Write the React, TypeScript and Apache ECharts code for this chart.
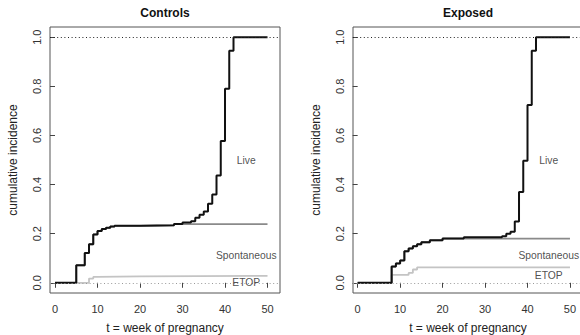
import React, { useEffect, useRef } from "react";
import * as echarts from "echarts";

// ---- Data ----
const xTicks = [0, 10, 20, 30, 40, 50];
const yTicks = [0, 0.2, 0.4, 0.6, 0.8, 1.0];

// Controls
const tLiveC = [0, 5, 7, 8, 9, 10, 11, 12, 13, 14, 20, 28, 30, 32, 33, 34, 35, 36, 37, 38, 39, 40, 41, 42, 50];
const vLiveC = [0, 0.071, 0.121, 0.157, 0.197, 0.211, 0.219, 0.224, 0.229, 0.232, 0.234, 0.239, 0.245, 0.251, 0.265, 0.277, 0.29, 0.322, 0.36, 0.437, 0.577, 0.79, 0.945, 1.0, 1.0];
const tSponC = [0, 5, 7, 8, 9, 10, 11, 12, 13, 14, 20, 28, 50];
const vSponC = [0, 0.071, 0.121, 0.157, 0.197, 0.211, 0.219, 0.224, 0.229, 0.232, 0.234, 0.239, 0.239];
const tEtopC = [0, 8, 9, 10, 20, 50];
const vEtopC = [0, 0.017, 0.024, 0.026, 0.028, 0.028];

// Exposed
const tLiveE = [0, 8, 9, 10, 11, 12, 13, 14, 15, 17, 20, 25, 34, 35, 36, 37, 38, 39, 40, 41, 42, 50];
const vLiveE = [0, 0.066, 0.079, 0.091, 0.128, 0.14, 0.149, 0.157, 0.165, 0.173, 0.18, 0.185, 0.19, 0.2, 0.208, 0.25, 0.37, 0.497, 0.724, 0.945, 1.0, 1.0];
const tSponE = [0, 8, 9, 10, 11, 12, 13, 14, 15, 17, 20, 50];
const vSponE = [0, 0.066, 0.079, 0.091, 0.128, 0.14, 0.149, 0.157, 0.165, 0.173, 0.18, 0.18];
const tEtopE = [0, 8, 12, 13, 14, 50];
const vEtopE = [0, 0.032, 0.04, 0.054, 0.063, 0.063];

// Curve labels: [t, value, text]
const labelsC: [number, number, string][] = [
  [45, 0.5, "Live"],
  [45, 0.11, "Spontaneous"],
  [45, 0.0, "ETOP"],
];
const labelsE: [number, number, string][] = [
  [45, 0.5, "Live"],
  [45, 0.11, "Spontaneous"],
  [45, 0.03, "ETOP"],
];

const titles = ["Controls", "Exposed"];
const xName = "t = week of pregnancy";
const yName = "cumulative incidence";

const FONT = "'Liberation Sans', Arial, Helvetica, sans-serif";

const zip = (t: number[], v: number[]) => t.map((x, i) => [x, v[i]]);

function buildOption() {
  const grids = [
    { left: 50, top: 27, width: 230, height: 266 },
    { left: 353, top: 27, width: 230, height: 266 },
  ];
  const xRanges = [
    [-1.18, 52.94],
    [-1.1, 53.07],
  ];

  const xAxis = [0, 1].map((i) => ({
    gridIndex: i,
    type: "value",
    min: xRanges[i][0],
    max: xRanges[i][1],
    axisLine: { show: false },
    splitLine: { show: false },
    axisTick: { show: true, length: 5, customValues: xTicks, lineStyle: { color: "#444" } },
    axisLabel: {
      customValues: xTicks,
      margin: 10,
      fontSize: 11,
      color: "#333",
      fontFamily: FONT,
    },
    name: xName,
    nameLocation: "middle",
    nameGap: 29,
    nameTextStyle: { fontSize: 12, color: "#222", fontFamily: FONT },
  }));

  const yAxis = [0, 1].map((i) => ({
    gridIndex: i,
    type: "value",
    min: -0.0416,
    max: 1.0416,
    axisLine: { show: false },
    splitLine: { show: false },
    axisTick: { show: true, length: 5, customValues: yTicks, lineStyle: { color: "#444" } },
    axisLabel: {
      customValues: yTicks,
      rotate: 90,
      margin: 8,
      fontSize: 11,
      color: "#333",
      fontFamily: FONT,
      formatter: (v: number) => v.toFixed(1),
    },
    name: yName,
    nameLocation: "middle",
    nameRotate: 90,
    nameGap: 31,
    nameTextStyle: { fontSize: 12, color: "#222", fontFamily: FONT },
  }));

  const stepSeries = (i: number, data: number[][], color: string, width: number, z: number) => ({
    type: "line",
    xAxisIndex: i,
    yAxisIndex: i,
    step: "end",
    data,
    symbol: "none",
    showSymbol: false,
    lineStyle: { color, width },
    z,
    silent: true,
  });

  const refLines = (i: number) => ({
    type: "line",
    xAxisIndex: i,
    yAxisIndex: i,
    data: [],
    silent: true,
    z: 1,
    markLine: {
      silent: true,
      symbol: ["none", "none"],
      label: { show: false },
      data: [
        { yAxis: 1, lineStyle: { color: "#222", type: [1, 2.6], width: 1 } },
        { yAxis: 0, lineStyle: { color: "#999", type: [1, 2.6], width: 1 } },
      ],
    },
  });

  const labelSeries = (i: number, data: [number, number, string][]) => ({
    type: "scatter",
    xAxisIndex: i,
    yAxisIndex: i,
    data,
    symbolSize: 1,
    itemStyle: { color: "rgba(0,0,0,0)" },
    silent: true,
    z: 10,
    label: {
      show: true,
      position: "inside",
      align: "center",
      verticalAlign: "middle",
      formatter: (p: any) => p.value[2],
      fontSize: 10.3,
      color: "#222",
      fontFamily: FONT,
    },
  });

  const series = [
    refLines(0),
    stepSeries(0, zip(tEtopC, vEtopC), "#c4c4c4", 1.8, 2),
    stepSeries(0, zip(tSponC, vSponC), "#8a8a8a", 1.8, 3),
    stepSeries(0, zip(tLiveC, vLiveC), "#111111", 2, 4),
    labelSeries(0, labelsC),
    refLines(1),
    stepSeries(1, zip(tEtopE, vEtopE), "#c4c4c4", 1.8, 2),
    stepSeries(1, zip(tSponE, vSponE), "#8a8a8a", 1.8, 3),
    stepSeries(1, zip(tLiveE, vLiveE), "#111111", 2, 4),
    labelSeries(1, labelsE),
  ];

  const centers = [165, 468];
  const graphic = titles.map((t, i) => ({
    type: "text",
    x: centers[i],
    y: 13,
    style: {
      text: t,
      textAlign: "center",
      textVerticalAlign: "middle",
      font: `bold 12px ${FONT}`,
      fill: "#111",
    },
  }));

  return {
    animation: false,
    backgroundColor: "#ffffff",
    grid: grids.map((g) => ({
      ...g,
      outerBoundsMode: "none",
      containLabel: false,
      show: true,
      borderColor: "#555",
      borderWidth: 1,
      backgroundColor: "transparent",
    })),
    xAxis,
    yAxis,
    series,
    graphic,
  };
}

export default function App() {
  const ref = useRef<HTMLDivElement>(null);
  useEffect(() => {
    if (!ref.current) return;
    const chart = echarts.init(ref.current, undefined, { renderer: "svg" });
    chart.setOption(buildOption() as any);
    return () => chart.dispose();
  }, []);
  return <div ref={ref} style={{ width: 580, height: 335, position: "absolute", left: 0, top: 0 }} />;
}
